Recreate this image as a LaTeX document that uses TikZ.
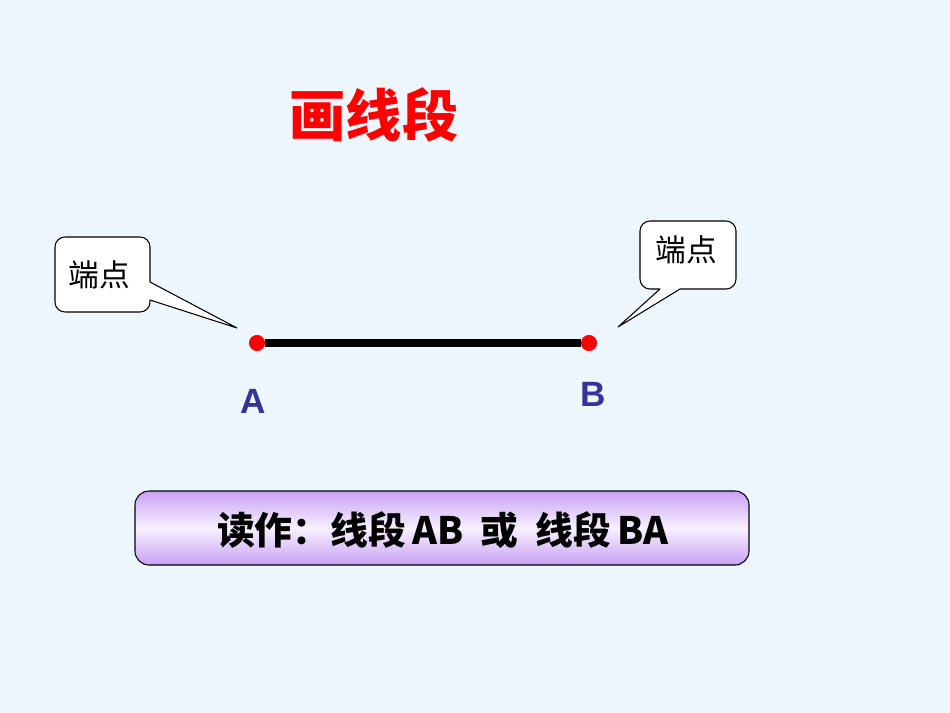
\documentclass[tikz,border=0pt]{standalone}
\usepackage{fontspec}
\setmainfont{Liberation Sans}
\newfontfamily\cjk{Noto Sans CJK SC}
\usetikzlibrary{calc}
\definecolor{bg}{RGB}{238,246,253}
\definecolor{lbl}{RGB}{51,51,153}
\definecolor{purp}{RGB}{200,160,245}
\tikzset{callout/.style={draw=black,fill=white,line width=0.6pt,line join=round},
 ptdot/.style={circle,fill=red,inner sep=0pt,minimum size=9pt},
 ptlbl/.style={text=lbl,font=\bfseries\fontsize{20}{24}\selectfont}}
\begin{document}
\begin{tikzpicture}[x=0.02cm,y=-0.02cm]
\fill[bg] (0,0) rectangle (950,713);
\useasboundingbox (0,0) rectangle (950,713);
\node[text=red,font=\cjk\bfseries\fontsize{32}{36}\selectfont] (title) at (374,115) {画线段};
\node[ptdot] (A) at (257,343) {};
\node[ptdot] (B) at (589,343) {};
\draw[line width=4.5pt] (A) -- (B);
\node[ptdot] at (A) {};
\node[ptdot] at (B) {};
\node[ptlbl] (la) at (253,401) {A};
\node[ptlbl] (lb) at (593,394) {B};
\coordinate (ta) at (237,328);
\coordinate (tb) at (618,327);
\draw[callout] (150,282) -- (ta) -- (150,300) -- (150,302) arc(0:90:10) -- (65,312) arc(90:180:10) -- (55,247) arc(180:270:10) -- (140,237) arc(270:360:10) -- cycle;
\node[font=\cjk\fontsize{17.5}{20}\selectfont] (ca) at (99,275) {端点};
\draw[callout] (680,289) -- (tb) -- (660,289) -- (650,289) arc(90:180:10) -- (640,231) arc(180:270:10) -- (726,221) arc(270:360:10) -- (736,279) arc(0:90:10) -- cycle;
\node[font=\cjk\fontsize{17.5}{20}\selectfont] (cb) at (686,250) {端点};
\shade[top color=purp,bottom color=purp,middle color=white!85!purp,rounded corners=8pt] (135,491) rectangle (749,565);
\draw[rounded corners=8pt,line width=0.6pt] (135,491) rectangle (749,565);
\node[font=\cjk\bfseries\fontsize{21.5}{24}\selectfont] (read) at (443,530) {读作：线段\,AB~~或~~线段\,BA};
\end{tikzpicture}
\end{document}
